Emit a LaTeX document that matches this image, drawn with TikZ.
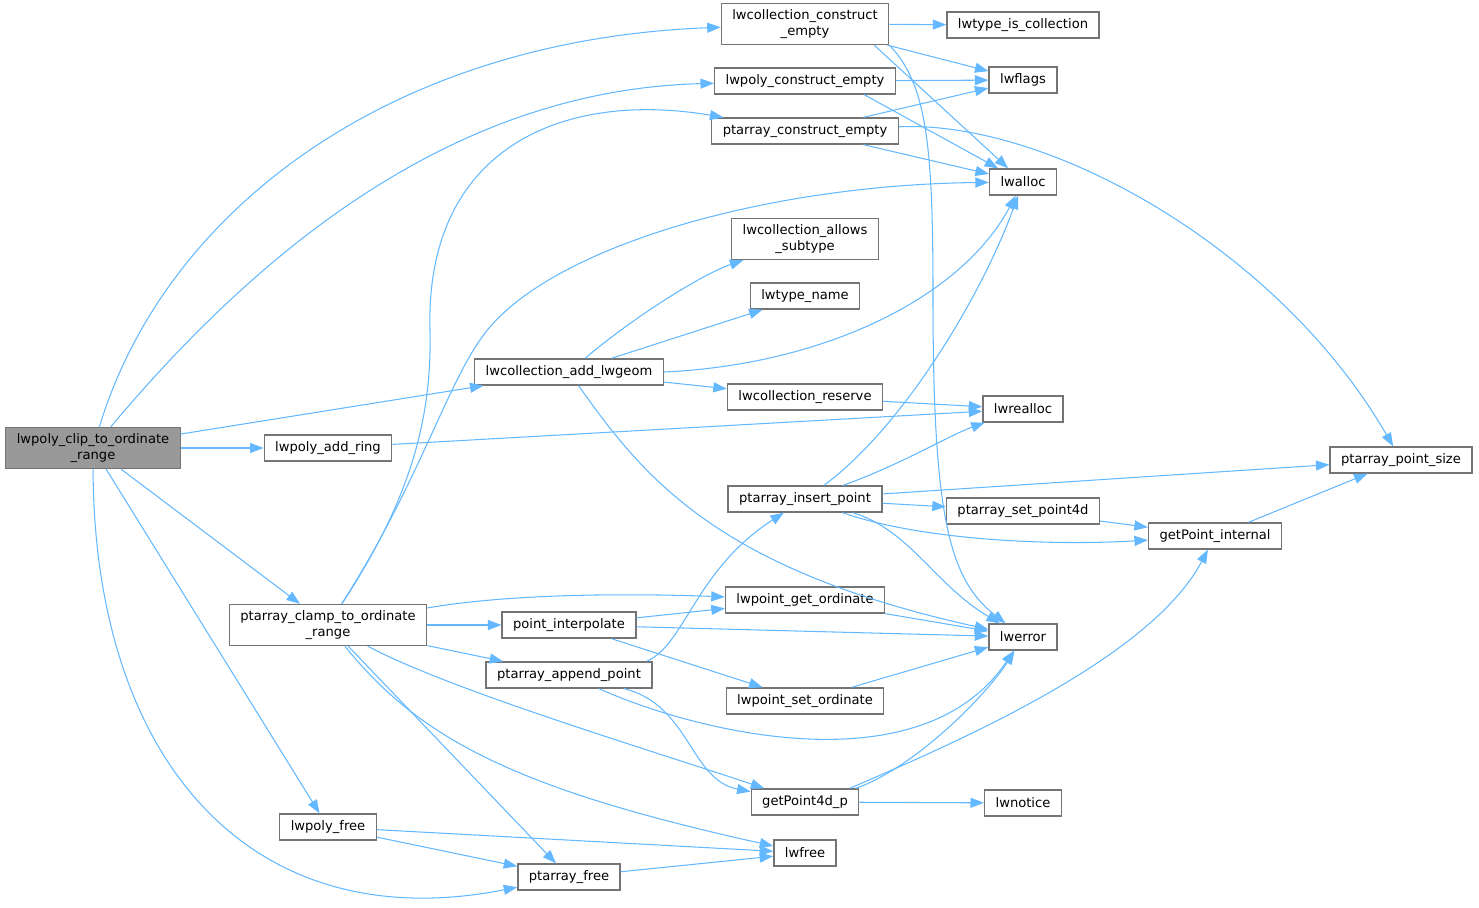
\documentclass[tikz,border=0pt]{standalone}
\usepackage{fontspec}
\setmainfont{DejaVu Sans}
\usetikzlibrary{arrows.meta}
\definecolor{edgecol}{HTML}{63B8FF}
\definecolor{boxcol}{HTML}{747474}
\definecolor{rootcol}{HTML}{999999}

\begin{document}
\begin{tikzpicture}[x=0.02cm,y=-0.02cm,
  >={Triangle[length=0.27cm,width=0.2cm]},
  fn/.style={draw=boxcol,line width=0.75pt,fill=white,inner xsep=0.22cm,inner ysep=0pt,
    minimum height=0.52cm,align=center,font=\fontsize{7.46pt}{9.1pt}\selectfont},
  fntwo/.style={fn,minimum height=0.82cm},
  root/.style={fntwo,fill=rootcol},
  call/.style={->,draw=edgecol,line width=0.6pt},
]
\useasboundingbox (0,0) rectangle (1479,908);

% --- functions ---
\node[root]  (clip)    at (93,448)   {lwpoly\_clip\_to\_ordinate\\\_range};
\node[fntwo] (lwcc)    at (805,24)   {lwcollection\_construct\\\_empty};
\node[fn]    (istype)  at (1023,25)  {lwtype\_is\_collection};
\node[fn]    (polyce)  at (805,81)   {lwpoly\_construct\_empty};
\node[fn]    (flags)   at (1023,80)  {lwflags};
\node[fn]    (ptce)    at (805,131)  {ptarray\_construct\_empty};
\node[fn]    (alloc)   at (1023,182) {lwalloc};
\node[fntwo] (allows)  at (805,239)  {lwcollection\_allows\\\_subtype};
\node[fn]    (tname)   at (805,296)  {lwtype\_name};
\node[fn]    (addgeom) at (569,372)  {lwcollection\_add\_lwgeom};
\node[fn]    (reserve) at (805,397)  {lwcollection\_reserve};
\node[fn]    (realloc) at (1023,409) {lwrealloc};
\node[fn]    (addring) at (328,448)  {lwpoly\_add\_ring};
\node[fn]    (psize)   at (1401,460) {ptarray\_point\_size};
\node[fn]    (insert)  at (805,499)  {ptarray\_insert\_point};
\node[fn]    (setp)    at (1023,511) {ptarray\_set\_point4d};
\node[fn]    (getint)  at (1215,536) {getPoint\_internal};
\node[fn]    (getord)  at (805,600)  {lwpoint\_get\_ordinate};
\node[fntwo] (clamp)   at (328,625)  {ptarray\_clamp\_to\_ordinate\\\_range};
\node[fn]    (interp)  at (569,625)  {point\_interpolate};
\node[fn]    (lwerror) at (1023,637) {lwerror};
\node[fn]    (append)  at (569,675)  {ptarray\_append\_point};
\node[fn]    (setord)  at (805,701)  {lwpoint\_set\_ordinate};
\node[fn]    (gp4d)    at (805,802)  {getPoint4d\_p};
\node[fn]    (notice)  at (1023,803) {lwnotice};
\node[fn]    (pfree)   at (328,827)  {lwpoly\_free};
\node[fn]    (lwfree)  at (805,853)  {lwfree};
\node[fn]    (ptfree)  at (569,877)  {ptarray\_free};

% --- calls of the root ---
\draw[call] (clip) .. controls (165,210) and (390,40) .. (lwcc);
\draw[call] (clip) .. controls (255,255) and (450,90) .. (polyce);
\draw[call] (clip) -- (addgeom);
\draw[call] (clip) -- (addring);
\draw[call] (clip) -- (clamp);
\draw[call] (clip) -- (pfree);
\draw[call] (clip) .. controls (94,760) and (250,940) .. (ptfree);

% --- constructors ---
\draw[call] (lwcc) -- (istype);
\draw[call] (lwcc) -- (flags);
\draw[call] (lwcc.-17) -- (alloc);
\draw[call] (lwcc.south east) .. controls (928,85) and (933,150) .. (933,300)
  .. controls (933,520) and (950,580) .. (lwerror);
\draw[call] (polyce) -- (flags);
\draw[call] (polyce.-13) -- (alloc);
\draw[call] (ptce) -- (flags);
\draw[call] (ptce) -- (alloc);
\draw[call] (ptce) .. controls (1050,120) and (1280,250) .. (psize);

% --- collection ---
\draw[call] (addgeom) .. controls (630,320) and (700,275) .. (allows);
\draw[call] (addgeom) -- (tname);
\draw[call] (addgeom.east) .. controls (820,365) and (960,300) .. (alloc);
\draw[call] (addgeom) -- (reserve);
\draw[call] (addgeom) .. controls (645,480) and (720,570) .. (lwerror);
\draw[call] (reserve) -- (realloc);
\draw[call] (addring) -- (realloc);

% --- clamp ---
\draw[call] (clamp) .. controls (410,500) and (432,420) .. (430,330)
  .. controls (425,150) and (560,90) .. (ptce);
\draw[call] (clamp) .. controls (415,490) and (445,390) .. (480,340)
  .. controls (540,250) and (760,185) .. (alloc);
\draw[call] (clamp) .. controls (520,592) and (650,594) .. (getord);
\draw[call] (clamp) -- (interp);
\draw[call] (clamp) -- (append);
\draw[call] (clamp) .. controls (450,690) and (650,750) .. (gp4d);
\draw[call] (clamp) .. controls (420,740) and (520,790) .. (lwfree);
\draw[call] (clamp) -- (ptfree);

% --- point array ---
\draw[call] (insert) .. controls (900,430) and (980,300) .. (alloc);
\draw[call] (insert) .. controls (900,465) and (950,435) .. (realloc);
\draw[call] (insert) -- (psize);
\draw[call] (insert) -- (setp);
\draw[call] (insert.-20) .. controls (920,540) and (1050,546) .. (getint);
\draw[call] (insert.-16) .. controls (910,530) and (935,585) .. (lwerror);
\draw[call] (setp) -- (getint);
\draw[call] (getint) -- (psize);
\draw[call] (interp) -- (getord);
\draw[call] (interp) -- (lwerror);
\draw[call] (interp) -- (setord);
\draw[call] (append.10) .. controls (685,645) and (695,570) .. (insert);
\draw[call] (append) .. controls (690,705) and (690,780) .. (gp4d);
\draw[call] (append) .. controls (690,730) and (920,790) .. (lwerror);
\draw[call] (getord) -- (lwerror);
\draw[call] (setord) -- (lwerror);
\draw[call] (gp4d) -- (notice);
\draw[call] (gp4d.15) .. controls (920,765) and (990,690) .. (lwerror);
\draw[call] (gp4d.17) .. controls (950,745) and (1150,660) .. (getint);

% --- freeing ---
\draw[call] (pfree) -- (lwfree);
\draw[call] (pfree) -- (ptfree);
\draw[call] (ptfree) -- (lwfree);
\end{tikzpicture}
\end{document}
